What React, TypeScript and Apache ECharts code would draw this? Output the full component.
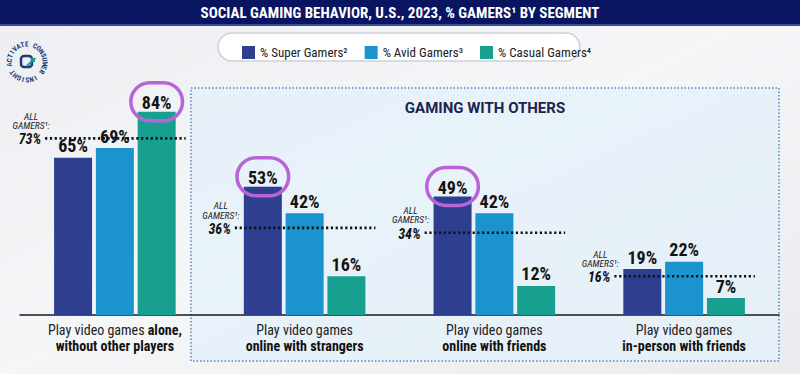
import React, { useEffect, useRef } from "react";
import * as echarts from "echarts";

const categories = ["alone", "strangers", "online friends", "in-person friends"];
const line1Regular = ["Play video games", "Play video games", "Play video games", "Play video games"];
const line1Bold = ["alone,", "", "", ""];
const line2Bold = ["without other players", "online with strangers", "online with friends", "in-person with friends"];

const seriesNames = ["% Super Gamers²", "% Avid Gamers³", "% Casual Gamers⁴"];
const superGamers = [65, 53, 49, 19];
const avidGamers = [69, 42, 42, 22];
const casualGamers = [84, 16, 12, 7];
const allGamers = [73, 36, 34, 16];
// [seriesIndex, categoryIndex] of the circled values
const circled = [
  [2, 0],
  [0, 1],
  [0, 2],
];

const titleText = "SOCIAL GAMING BEHAVIOR, U.S., 2023, % GAMERS¹ BY SEGMENT";
const boxTitle = "GAMING WITH OTHERS";
const refLabel = "ALL\nGAMERS¹:";

const NARROW = "'Liberation Sans Narrow', 'Roboto Condensed', Roboto, sans-serif";
const COLORS = ["#2e3f8f", "#1a93cf", "#17a08f"];

export default function App() {
  const ref = useRef<HTMLDivElement>(null);

  useEffect(() => {
    document.body.style.margin = "0";
    const chart = echarts.init(ref.current!, null, { renderer: "svg" });

    const circleLabel = {
      borderColor: "#b863d6",
      borderWidth: 3.5,
      borderRadius: 22,
      padding: [11, 11, 9, 11],
      distance: -9,
    };

    const makeData = (vals: number[], si: number) =>
      vals.map((v, ci) =>
        circled.some((c) => c[0] === si && c[1] === ci) ? { value: v, label: circleLabel } : v
      );

    const barSeries = [superGamers, avidGamers, casualGamers].map((vals, si) => ({
      type: "bar",
      name: seriesNames[si],
      data: makeData(vals, si),
      barWidth: 38,
      barGap: "10%",
      itemStyle: { color: COLORS[si] },
      z: 2,
      label: {
        show: true,
        position: "top",
        distance: 3,
        formatter: "{c}%",
        fontFamily: NARROW,
        fontWeight: "bold",
        fontSize: 18,
        color: "#141414",
      },
    }));

    // logo characters around a circle
    const logoText = "ACTIVATE CONSUMER INSIGHT ";
    const lcx = 27,
      lcy = 62,
      lr = 17.5;
    const logoChars = logoText.split("").map((ch, i) => {
      const th = ((262 + (i * 360) / logoText.length) * Math.PI) / 180;
      return {
        type: "text",
        x: lcx + lr * Math.sin(th),
        y: lcy - lr * Math.cos(th),
        rotation: -th,
        z: 10,
        style: {
          text: ch,
          fontSize: 7,
          fontWeight: "bold",
          fontFamily: NARROW,
          fill: "#233a78",
          align: "center",
          verticalAlign: "middle",
        },
      };
    });

    const option: any = {
      animation: false,
      backgroundColor: new echarts.graphic.LinearGradient(0, 0, 1, 1, [
        { offset: 0, color: "#eceef1" },
        { offset: 0.5, color: "#f5f6f8" },
        { offset: 1, color: "#e9ebee" },
      ]),
      grid: { left: 20, right: 21, top: 73, bottom: 59 },
      legend: {
        left: 237,
        top: 41,
        itemWidth: 13,
        itemHeight: 13,
        itemGap: 17,
        icon: "rect",
        data: seriesNames,
        textStyle: { fontFamily: NARROW, fontSize: 13, color: "#222" },
      },
      xAxis: {
        type: "category",
        data: categories,
        axisTick: { show: false },
        axisLine: { lineStyle: { color: "#1a1a1a", width: 1.5 } },
        axisLabel: {
          interval: 0,
          margin: 7,
          formatter: (_v: string, idx: number) =>
            `{r|${line1Regular[idx]}}` +
            (line1Bold[idx] ? `{b| ${line1Bold[idx]}}` : "") +
            `\n{b|${line2Bold[idx]}}`,
          rich: {
            r: { fontFamily: NARROW, fontSize: 14, color: "#222", lineHeight: 16 },
            b: { fontFamily: NARROW, fontSize: 14, fontWeight: "bold", color: "#111", lineHeight: 16 },
          },
        },
      },
      yAxis: { type: "value", min: 0, max: 100, show: false, splitLine: { show: false } },
      graphic: [
        {
          type: "rect",
          shape: { x: 191, y: 88, width: 588, height: 273 },
          z: -10,
          style: {
            fill: "rgba(228,240,250,0.75)",
            stroke: "#5a86bb",
            lineWidth: 1.5,
            lineDash: [1.5, 2],
          },
        },
        {
          type: "text",
          x: 485,
          y: 108,
          z: 10,
          style: {
            text: boxTitle,
            fontFamily: "Roboto",
            fontWeight: "bold",
            fontSize: 15,
            fill: "#1b2350",
            align: "center",
            verticalAlign: "middle",
          },
        },
        { type: "rect", shape: { x: 0, y: 0, width: 800, height: 24 }, z: 10, style: { fill: "#0a1562" } },
        { type: "rect", shape: { x: 0, y: 24, width: 800, height: 2 }, z: 10, style: { fill: "#3a4c98" } },
        {
          type: "text",
          x: 400,
          y: 12.5,
          z: 11,
          style: {
            text: titleText,
            fontFamily: NARROW,
            fontWeight: "bold",
            fontSize: 15,
            fill: "#ffffff",
            align: "center",
            verticalAlign: "middle",
          },
        },
        {
          type: "rect",
          shape: { x: 218, y: 33, width: 362, height: 28, r: 14 },
          z: -5,
          style: { fill: "#ffffff", stroke: "#cdd1d7", lineWidth: 1.5 },
        },
        ...logoChars,
        {
          type: "rect",
          shape: { x: 21, y: 56, width: 11, height: 11, r: 3 },
          z: 10,
          style: { fill: "none", stroke: "#233a78", lineWidth: 2.5 },
        },
        {
          type: "polyline",
          shape: { points: [[27, 66], [34, 59], [31, 59], [34, 59], [34, 62]] },
          z: 11,
          style: { fill: "none", stroke: "#17a08f", lineWidth: 2 },
        },
      ],
      series: [
        ...barSeries,
        {
          type: "custom",
          name: "All gamers",
          data: allGamers.map((v, i) => [i, v]),
          z: 5,
          silent: true,
          encode: { x: 0, y: 1 },
          renderItem: (_params: any, api: any) => {
            const p = api.coord([api.value(0), api.value(1)]);
            const band = api.size([1, 0])[0];
            const half = band * 0.373;
            const x = p[0];
            const y = p[1];
            return {
              type: "group",
              children: [
                {
                  type: "line",
                  shape: { x1: x - half + 1, y1: y, x2: x + half, y2: y },
                  style: { stroke: "#111", lineWidth: 2.6, lineDash: [2.2, 2.6] },
                },
                {
                  type: "text",
                  x: x - half - 3,
                  y: y + 1,
                  style: {
                    text: api.value(1) + "%",
                    align: "right",
                    verticalAlign: "middle",
                    fontFamily: NARROW,
                    fontStyle: "italic",
                    fontWeight: "bold",
                    fontSize: 14,
                    fill: "#111",
                  },
                },
                {
                  type: "text",
                  x: x - half - 13,
                  y: y - 8,
                  style: {
                    text: refLabel,
                    align: "center",
                    verticalAlign: "bottom",
                    fontFamily: NARROW,
                    fontStyle: "italic",
                    fontSize: 9.5,
                    lineHeight: 9.5,
                    fill: "#222",
                  },
                },
              ],
            };
          },
        },
      ],
    };

    chart.setOption(option);
    return () => chart.dispose();
  }, []);

  return <div ref={ref} style={{ width: 800, height: 374 }} />;
}
